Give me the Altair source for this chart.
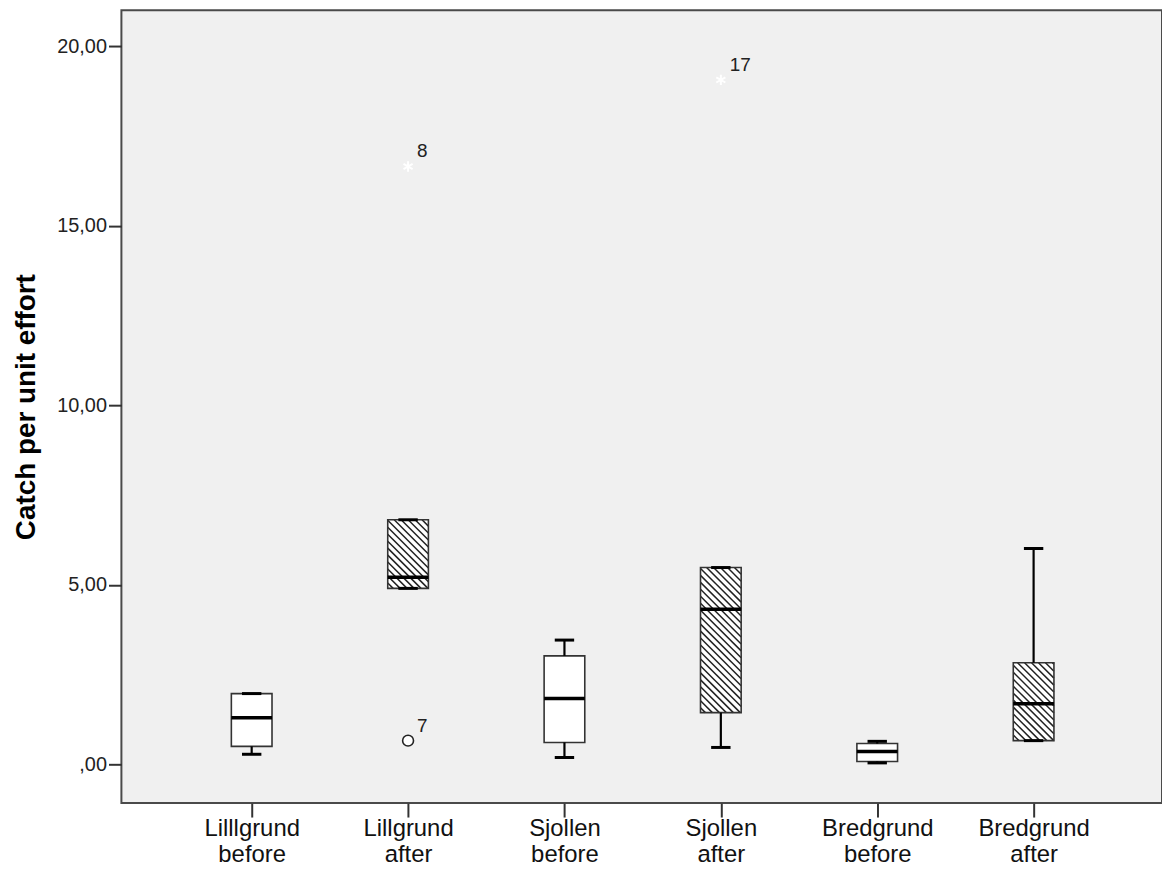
import altair as alt
import pandas as pd

# ---- data ----
groups = ["Lilllgrund before", "Lillgrund after", "Sjollen before",
          "Sjollen after", "Bredgrund before", "Bredgrund after"]
label_top = ["Lilllgrund", "Lillgrund", "Sjollen", "Sjollen", "Bredgrund", "Bredgrund"]
label_bottom = ["before", "after", "before", "after", "before", "after"]
wh_low = [0.28, 4.90, 0.19, 0.47, 0.04, 0.66]
q1 = [0.50, 4.90, 0.61, 1.44, 0.08, 0.66]
median = [1.30, 5.21, 1.83, 4.32, 0.36, 1.69]
q3 = [1.97, 6.81, 3.02, 5.48, 0.58, 2.83]
wh_high = [1.97, 6.81, 3.46, 5.48, 0.64, 6.01]
hatched = [False, True, False, True, False, True]

out_group = [1, 1, 3]
out_value = [0.66, 16.65, 19.06]
out_label = ["7", "8", "17"]
out_kind = ["outlier", "extreme", "extreme"]

# ---- layout ----
W, H = 1046, 797
XMIN, XMAX = -0.833, 5.821
YMIN, YMAX = -1.08, 21.0
BOX_HALF = 0.13
CAP_HALF = 0.062
FONT = "Liberation Sans"

px_x = W / (XMAX - XMIN)
px_y = H / (YMAX - YMIN)

boxes = pd.DataFrame({
    "group": groups, "x": list(range(len(groups))),
    "low": wh_low, "q1": q1, "median": median, "q3": q3, "high": wh_high,
    "hatched": hatched,
})
boxes["xl"] = boxes["x"] - BOX_HALF
boxes["xr"] = boxes["x"] + BOX_HALF
boxes["cl"] = boxes["x"] - CAP_HALF
boxes["cr"] = boxes["x"] + CAP_HALF

# hatch segments ("\" direction, 45 deg on screen), clipped to hatched boxes
rows = []
SP = 7.0
for _, b in boxes[boxes["hatched"]].iterrows():
    L = (b["xl"] - XMIN) * px_x
    R = (b["xr"] - XMIN) * px_x
    T = (YMAX - b["q3"]) * px_y
    B = (YMAX - b["q1"]) * px_y
    kmin, kmax = T - R, B - L
    k = (int(kmin // SP) + 1) * SP
    while k < kmax:
        x0 = max(L, T - k)
        x1 = min(R, B - k)
        if x1 - x0 > 0.6:
            rows.append({
                "hx": XMIN + x0 / px_x, "hx2": XMIN + x1 / px_x,
                "hy": YMAX - (x0 + k) / px_y, "hy2": YMAX - (x1 + k) / px_y,
            })
        k += SP
hatch = pd.DataFrame(rows)

outs = pd.DataFrame({"x": out_group, "value": out_value,
                     "label": out_label, "kind": out_kind})

xs = alt.Scale(domain=[XMIN, XMAX], nice=False, zero=False)
ys = alt.Scale(domain=[YMIN, YMAX], nice=False, zero=False)

top_arr = "[" + ",".join("'%s'" % s for s in label_top) + "]"
bot_arr = "[" + ",".join("'%s'" % s for s in label_bottom) + "]"
x_label_expr = "[%s[datum.value], %s[datum.value]]" % (top_arr, bot_arr)

x_axis = alt.Axis(values=list(range(len(groups))), labelExpr=x_label_expr,
                  title=None, grid=False, domain=False, tickSize=14,
                  tickWidth=2, tickColor="#333333", labelFont=FONT,
                  labelFontSize=24, labelLineHeight=26, labelColor="#111111",
                  labelPadding=0, labelOverlap=False, labelFlush=False)
y_axis = alt.Axis(values=[0, 5, 10, 15, 20],
                  labelExpr="datum.value == 0 ? ',00' : replace(format(datum.value, '.2f'), '.', ',')",
                  title="Catch per unit effort", titleFont=FONT, titleFontSize=28,
                  titleFontWeight="bold", titleColor="#000000", titlePadding=16,
                  grid=False, domain=False, tickSize=13, tickWidth=2,
                  tickColor="#333333", labelFont=FONT, labelFontSize=20,
                  labelColor="#222222", labelPadding=2)


def X(field):
    return alt.X(field, type="quantitative", scale=xs, axis=x_axis, title=None)


def Y(field):
    return alt.Y(field, type="quantitative", scale=ys, axis=y_axis,
                 title="Catch per unit effort")


base = alt.Chart(boxes)

box_fill = base.mark_rect(fill="white", stroke=None).encode(
    x=X("xl"), x2="xr", y=Y("q1"), y2="q3",
)

hatch_layer = alt.Chart(hatch).mark_rule(color="#222222", strokeWidth=1.5).encode(
    x=X("hx"), x2="hx2", y=Y("hy"), y2="hy2",
)

box_edge = base.mark_rect(fillOpacity=0, stroke="#333333", strokeWidth=1.6).encode(
    x=X("xl"), x2="xr", y=Y("q1"), y2="q3",
)

wh_up = base.mark_rule(color="black", strokeWidth=2.2).encode(
    x=X("x"), y=Y("q3"), y2="high",
)
wh_dn = base.mark_rule(color="black", strokeWidth=2.2).encode(
    x=X("x"), y=Y("low"), y2="q1",
)
cap_up = base.mark_rule(color="black", strokeWidth=3).encode(
    x=X("cl"), x2="cr", y=Y("high"),
)
cap_dn = base.mark_rule(color="black", strokeWidth=3).encode(
    x=X("cl"), x2="cr", y=Y("low"),
)
med = base.mark_rule(color="black", strokeWidth=3.5).encode(
    x=X("xl"), x2="xr", y=Y("median"),
)

ob = alt.Chart(outs)
circ = ob.transform_filter("datum.kind == 'outlier'").mark_point(
    shape="circle", size=120, filled=False, fill="white", fillOpacity=1,
    stroke="#222222", strokeWidth=1.6, opacity=1,
).encode(x=X("x"), y=Y("value"))
star_path = "M0,-1L0,1M-0.87,-0.5L0.87,0.5M-0.87,0.5L0.87,-0.5"
stars = ob.transform_filter("datum.kind == 'extreme'").mark_point(
    shape=star_path, size=110, filled=False, stroke="white", strokeWidth=2,
    opacity=1,
).encode(x=X("x"), y=Y("value"))
labels = ob.mark_text(align="left", baseline="alphabetic", dx=9, dy=-9,
                      font=FONT, fontSize=19, color="#222222").encode(
    x=X("x"), y=Y("value"), text="label:N",
)

chart = alt.layer(
    box_fill, hatch_layer, box_edge, wh_up, wh_dn, cap_up, cap_dn, med,
    circ, stars, labels,
).properties(
    width=W, height=H,
    autosize=alt.AutoSizeParams(type="none"),
    padding={"left": 114, "top": 0, "right": 0, "bottom": 66},
    background="white",
).configure_view(
    fill="#F0F0F0", stroke="#4a4a4a", strokeWidth=2,
)

chart.save("out.html", embed_options={"renderer": "svg", "actions": False})
